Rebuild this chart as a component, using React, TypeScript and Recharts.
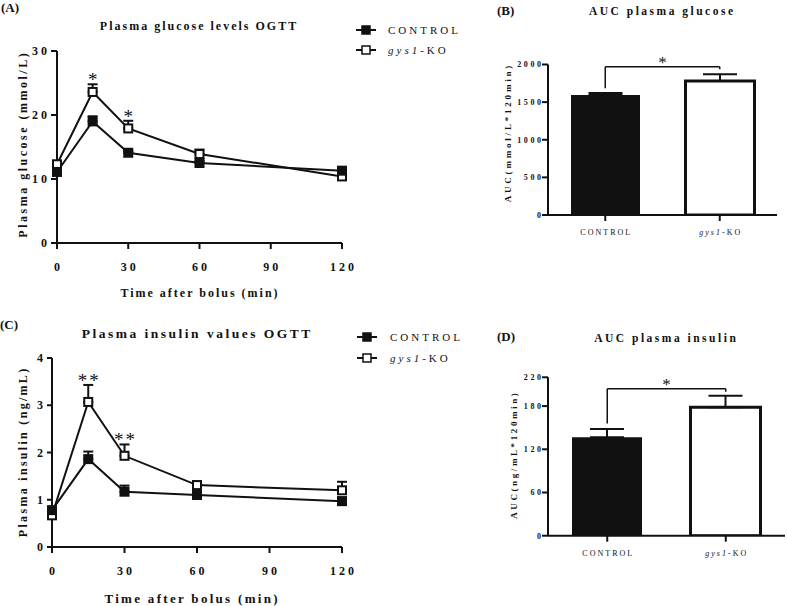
import React from 'react';
import {
  LineChart,
  Line,
  BarChart,
  Bar,
  XAxis,
  YAxis,
  ErrorBar,
  Cell,
  ReferenceLine,
  ReferenceDot,
} from 'recharts';

const FONT = '"Liberation Serif", "Times New Roman", serif';
const INK = '#111111';

// ---------- data ----------
const timePoints = [0, 15, 30, 60, 120];
const timeTicks = [0, 30, 60, 90, 120];

const glucoseControl = [11.1, 19.0, 14.1, 12.5, 11.3];
const glucoseControlErr = [0.3, 0.8, 0.3, 0.3, 0.3];
const glucoseKO = [12.3, 23.6, 17.9, 13.9, 10.4];
const glucoseKOErr = [0.3, 1.2, 1.2, 0.7, 0.3];
const glucoseSig = ['', '*', '*', '', ''];
const glucoseTicks = [0, 10, 20, 30];

const insulinControl = [0.78, 1.86, 1.17, 1.1, 0.97];
const insulinControlErr = [0.04, 0.16, 0.13, 0.05, 0.08];
const insulinKO = [0.67, 3.07, 1.93, 1.31, 1.2];
const insulinKOErr = [0.05, 0.36, 0.24, 0.08, 0.18];
const insulinSig = ['', '**', '**', '', ''];
const insulinTicks = [0, 1, 2, 3, 4];

const groups = ['CONTROL', 'gys1-KO'];
const aucGlucose = [1595, 1781];
const aucGlucoseErr = [26, 89];
const aucGlucoseTicks = [0, 500, 1000, 1500, 2000];
const aucGlucoseBracket = [1684, 1971, 1936]; // left foot, top, right foot
const aucInsulin = [136.7, 178.3];
const aucInsulinErr = [11.5, 16];
const aucInsulinTicks = [0, 60, 120, 180, 220];
const aucInsulinBracket = [156, 204, 200];
const aucSig = '*';

const panelLabels = ['(A)', '(B)', '(C)', '(D)'];
const chartTitles = [
  'Plasma glucose levels OGTT',
  'AUC plasma glucose',
  'Plasma insulin values OGTT',
  'AUC plasma insulin',
];
const xTitles = ['Time after bolus (min)', 'Time after bolus (min)'];
const yTitles = [
  'Plasma glucose (mmol/L)',
  'AUC(mmol/L*120min)',
  'Plasma insulin (ng/mL)',
  'AUC(ng/mL*120min)',
];

// ---------- helpers ----------
const renderName = (name: string) => {
  const m = name.match(/^(gys1)(.*)$/);
  if (m) {
    return [
      <tspan key="i" fontStyle="italic">
        {m[1]}
      </tspan>,
      <tspan key="r">{m[2]}</tspan>,
    ];
  }
  return name;
};

const makeTick =
  (axis: 'x' | 'y', fontSize: number, spacing: number, weight: number) =>
  (props: any) => {
    const { x, y, payload } = props;
    return (
      <text
        x={x + (axis === 'x' ? spacing / 2 : spacing)}
        y={y}
        dy={axis === 'x' ? '0.71em' : '0.35em'}
        textAnchor={axis === 'x' ? 'middle' : 'end'}
        fill={INK}
        fontFamily={FONT}
        fontSize={fontSize}
        fontWeight={weight}
        letterSpacing={spacing}
      >
        {renderName(String(payload.value))}
      </text>
    );
  };

const squareDot = (fill: string, size: number) => (props: any) => {
  const { cx, cy, index } = props;
  if (cx == null || cy == null) return <g key={`e-${index}`} />;
  return (
    <rect
      key={`sq-${index}`}
      x={cx - size / 2}
      y={cy - size / 2}
      width={size}
      height={size}
      fill={fill}
      stroke={INK}
      strokeWidth={2}
    />
  );
};

const starLabel = (text: string, size: number, spacing: number, lift: number) => (props: any) => {
  const vb = props.viewBox || {};
  const cx = (vb.x ?? 0) + (vb.width ?? 0) / 2;
  const top = vb.y ?? 0;
  return (
    <text
      x={cx + spacing / 2}
      y={top - lift}
      textAnchor="middle"
      fill={INK}
      fontFamily={FONT}
      fontSize={size}
      letterSpacing={spacing}
    >
      {text}
    </text>
  );
};

const axisStyle = { stroke: INK, strokeWidth: 2 };

type TimeCourseProps = {
  control: number[];
  controlErr: number[];
  ko: number[];
  koErr: number[];
  sig: string[];
  yTicks: number[];
  width: number;
  height: number;
  top: number;
  yAxisWidth: number;
  xAxisHeight: number;
  right: number;
  starSize: number;
  starSpacing: number;
  ySize: number;
};

function TimeCourse(p: TimeCourseProps) {
  const rows = timePoints.map((t, i) => ({
    t,
    control: p.control[i],
    controlErr: [0, p.controlErr[i]],
    ko: p.ko[i],
    koErr: [0, p.koErr[i]],
  }));
  const yMax = p.yTicks[p.yTicks.length - 1];
  return (
    <LineChart
      width={p.width}
      height={p.height}
      data={rows}
      margin={{ top: p.top, right: p.right, bottom: 0, left: 0 }}
    >
      <XAxis
        dataKey="t"
        type="number"
        domain={[0, 120]}
        ticks={timeTicks}
        interval={0}
        height={p.xAxisHeight}
        tickSize={6}
        tickMargin={13}
        tick={makeTick('x', 12, 3, 700)}
        axisLine={axisStyle}
        tickLine={axisStyle}
      />
      <YAxis
        type="number"
        domain={[0, yMax]}
        ticks={p.yTicks}
        interval={0}
        allowDataOverflow
        width={p.yAxisWidth}
        tickSize={p.ySize}
        tickMargin={4}
        tick={makeTick('y', 12, 3, 700)}
        axisLine={axisStyle}
        tickLine={axisStyle}
      />
      <Line
        dataKey="ko"
        stroke={INK}
        strokeWidth={2}
        dot={squareDot('#ffffff', 8)}
        activeDot={false}
        isAnimationActive={false}
      >
        <ErrorBar dataKey="koErr" width={5} strokeWidth={2} stroke={INK} direction="y" />
      </Line>
      <Line
        dataKey="control"
        stroke={INK}
        strokeWidth={2}
        dot={squareDot(INK, 8)}
        activeDot={false}
        isAnimationActive={false}
      >
        <ErrorBar dataKey="controlErr" width={5} strokeWidth={2} stroke={INK} direction="y" />
      </Line>
      {rows.map((r, i) =>
        p.sig[i] ? (
          <ReferenceDot
            key={`sig-${i}`}
            x={r.t}
            y={p.ko[i] + p.koErr[i]}
            r={0}
            fill="none"
            stroke="none"
            ifOverflow="visible"
            label={starLabel(p.sig[i], p.starSize, p.starSpacing, -2)}
          />
        ) : null
      )}
    </LineChart>
  );
}

type AucProps = {
  values: number[];
  errs: number[];
  ticks: number[];
  bracket: number[];
  width: number;
  height: number;
  top: number;
  right: number;
  xAxisHeight: number;
  barSize: number;
  xTickMargin: number;
};

function AucChart(p: AucProps) {
  const rows = groups.map((name, i) => ({ name, auc: p.values[i], err: [0, p.errs[i]] }));
  const yMax = p.ticks[p.ticks.length - 1];
  const fills = [INK, '#ffffff'];
  const lineProps = { stroke: INK, strokeWidth: 1.5, ifOverflow: 'visible' as const };
  return (
    <BarChart
      width={p.width}
      height={p.height}
      data={rows}
      margin={{ top: p.top, right: p.right, bottom: 0, left: 0 }}
    >
      <XAxis
        dataKey="name"
        type="category"
        interval={0}
        height={p.xAxisHeight}
        tickSize={6}
        tickMargin={p.xTickMargin}
        tick={makeTick('x', 8, 2, 400)}
        axisLine={axisStyle}
        tickLine={axisStyle}
      />
      <YAxis
        type="number"
        domain={[0, yMax]}
        ticks={p.ticks}
        interval={0}
        allowDataOverflow
        width={188}
        tickSize={6}
        tickMargin={1}
        tick={makeTick('y', 8, 2.6, 700)}
        axisLine={axisStyle}
        tickLine={axisStyle}
      />
      <Bar dataKey="auc" barSize={p.barSize} isAnimationActive={false}>
        {rows.map((r, i) => (
          <Cell key={r.name} fill={fills[i]} stroke={INK} strokeWidth={i === 0 ? 0 : 3} />
        ))}
        <ErrorBar dataKey="err" width={17} strokeWidth={2} stroke={INK} direction="y" />
      </Bar>
      <ReferenceLine
        {...lineProps}
        segment={[
          { x: groups[0], y: p.bracket[0] },
          { x: groups[0], y: p.bracket[1] },
        ]}
      />
      <ReferenceLine
        {...lineProps}
        segment={[
          { x: groups[0], y: p.bracket[1] },
          { x: groups[1], y: p.bracket[1] },
        ]}
        label={starLabel(aucSig, 17, 0, -1)}
      />
      <ReferenceLine
        {...lineProps}
        segment={[
          { x: groups[1], y: p.bracket[1] },
          { x: groups[1], y: p.bracket[2] },
        ]}
      />
    </BarChart>
  );
}

const TextAt = (props: {
  x: number;
  y: number;
  size: number;
  spacing?: number;
  weight?: number;
  anchor?: 'start' | 'middle' | 'end';
  rotate?: boolean;
  children: React.ReactNode;
}) => {
  const { x, y, size, spacing = 0, weight = 700, anchor = 'start', rotate, children } = props;
  const shift = anchor === 'middle' ? spacing / 2 : 0;
  if (rotate) {
    return (
      <text
        transform={`translate(${x},${y}) rotate(-90)`}
        x={spacing / 2}
        y={0}
        dy="0.35em"
        textAnchor="middle"
        fontFamily={FONT}
        fontSize={size}
        fontWeight={weight}
        letterSpacing={spacing}
        fill={INK}
      >
        {children}
      </text>
    );
  }
  return (
    <text
      x={x + shift}
      y={y}
      textAnchor={anchor}
      fontFamily={FONT}
      fontSize={size}
      fontWeight={weight}
      letterSpacing={spacing}
      fill={INK}
    >
      {children}
    </text>
  );
};

const LegendBlock = ({ x, y, gap, textX }: { x: number; y: number; gap: number; textX: number }) => (
  <g>
    {groups.map((g, i) => {
      const cy = y + i * gap;
      return (
        <g key={g}>
          <line x1={x} x2={x + 20} y1={cy} y2={cy} stroke={INK} strokeWidth={2} />
          <rect
            x={x + 6}
            y={cy - 4}
            width={8}
            height={8}
            fill={i === 0 ? INK : '#ffffff'}
            stroke={INK}
            strokeWidth={1.5}
          />
          <text
            x={textX}
            y={cy}
            dy="0.35em"
            fontFamily={FONT}
            fontSize={11}
            letterSpacing={3}
            fill={INK}
          >
            {renderName(g)}
          </text>
        </g>
      );
    })}
  </g>
);

export default function App() {
  return (
    <div
      style={{
        position: 'absolute',
        left: 0,
        top: 0,
        width: 787,
        height: 606,
        background: '#ffffff',
        overflow: 'hidden',
      }}
    >
      <div style={{ position: 'absolute', left: 0, top: 0 }}>
        <TimeCourse
          control={glucoseControl}
          controlErr={glucoseControlErr}
          ko={glucoseKO}
          koErr={glucoseKOErr}
          sig={glucoseSig}
          yTicks={glucoseTicks}
          width={360}
          height={300}
          top={51}
          right={18}
          yAxisWidth={57}
          xAxisHeight={57}
          starSize={19}
          starSpacing={0}
          ySize={6}
        />
      </div>
      <div style={{ position: 'absolute', left: 0, top: 300 }}>
        <TimeCourse
          control={insulinControl}
          controlErr={insulinControlErr}
          ko={insulinKO}
          koErr={insulinKOErr}
          sig={insulinSig}
          yTicks={insulinTicks}
          width={360}
          height={306}
          top={58}
          right={18}
          yAxisWidth={52}
          xAxisHeight={59}
          starSize={19}
          starSpacing={2}
          ySize={5}
        />
      </div>
      <div style={{ position: 'absolute', left: 360, top: 0 }}>
        <AucChart
          values={aucGlucose}
          errs={aucGlucoseErr}
          ticks={aucGlucoseTicks}
          bracket={aucGlucoseBracket}
          width={427}
          height={260}
          top={64.5}
          right={10}
          xAxisHeight={45}
          barSize={69}
          xTickMargin={8}
        />
      </div>
      <div style={{ position: 'absolute', left: 360, top: 300 }}>
        <AucChart
          values={aucInsulin}
          errs={aucInsulinErr}
          ticks={aucInsulinTicks}
          bracket={aucInsulinBracket}
          width={427}
          height={306}
          top={77.3}
          right={2}
          xAxisHeight={70.3}
          barSize={70}
          xTickMargin={9}
        />
      </div>
      <svg
        width={787}
        height={606}
        style={{ position: 'absolute', left: 0, top: 0, pointerEvents: 'none', overflow: 'visible' }}
      >
        <TextAt x={1} y={12} size={13}>{panelLabels[0]}</TextAt>
        <TextAt x={497} y={15} size={13}>{panelLabels[1]}</TextAt>
        <TextAt x={0} y={329} size={13}>{panelLabels[2]}</TextAt>
        <TextAt x={497} y={341} size={13}>{panelLabels[3]}</TextAt>

        <TextAt x={198} y={30} size={12} spacing={2} anchor="middle">{chartTitles[0]}</TextAt>
        <TextAt x={661} y={15} size={11.5} spacing={2.5} anchor="middle">{chartTitles[1]}</TextAt>
        <TextAt x={196} y={338} size={13.5} spacing={2.5} anchor="middle">{chartTitles[2]}</TextAt>
        <TextAt x={665} y={341.5} size={11.5} spacing={2.5} anchor="middle">{chartTitles[3]}</TextAt>

        <TextAt x={199} y={296.5} size={12} spacing={2} anchor="middle">{xTitles[0]}</TextAt>
        <TextAt x={191} y={603} size={13} spacing={2.3} anchor="middle">{xTitles[1]}</TextAt>

        <TextAt x={23} y={145.5} size={12} spacing={2.5} rotate>{yTitles[0]}</TextAt>
        <TextAt x={508} y={134} size={9} spacing={2.8} rotate>{yTitles[1]}</TextAt>
        <TextAt x={23} y={453} size={12} spacing={2.3} rotate>{yTitles[2]}</TextAt>
        <TextAt x={514} y={456} size={9} spacing={2.6} rotate>{yTitles[3]}</TextAt>

        <LegendBlock x={356} y={30} gap={20} textX={388} />
        <LegendBlock x={357} y={337} gap={21} textX={390} />
      </svg>
    </div>
  );
}
